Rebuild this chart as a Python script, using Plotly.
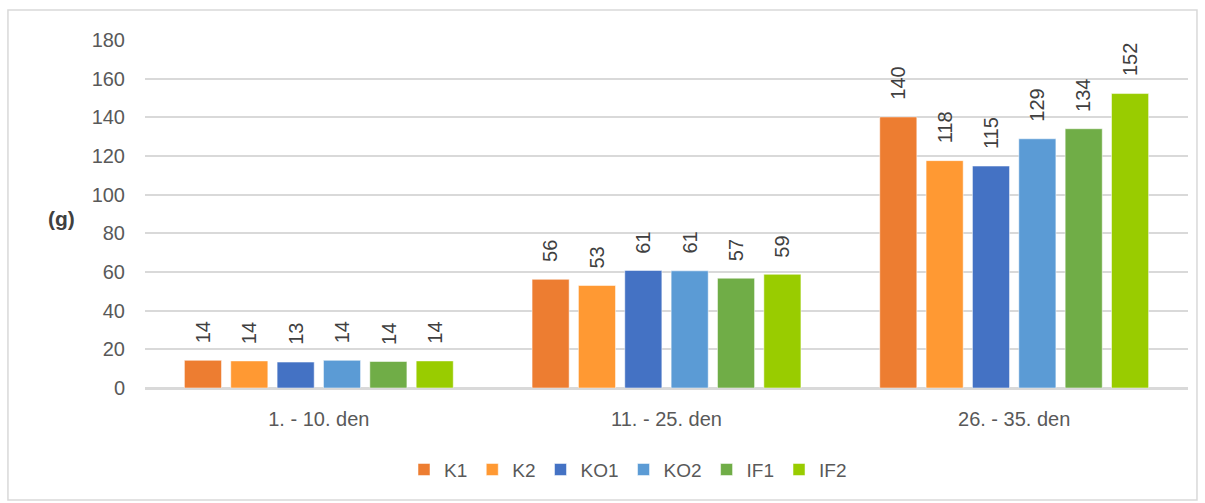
import plotly.graph_objects as go

categories = ["1. - 10. den", "11. - 25. den", "26. - 35. den"]
series_names = ["K1", "K2", "KO1", "KO2", "IF1", "IF2"]
K1 = [14.3, 56.2, 140.2]
K2 = [14.0, 53.0, 117.6]
KO1 = [13.4, 60.8, 114.8]
KO2 = [14.3, 60.6, 128.9]
IF1 = [13.7, 56.8, 134.1]
IF2 = [14.0, 58.8, 152.3]
colors = ["#ED7D31", "#FF9933", "#4472C4", "#5B9BD5", "#70AD47", "#99CC00"]

FONT = "Liberation Sans"
BARGAP = 0.2
all_series = [K1, K2, KO1, KO2, IF1, IF2]

fig = go.Figure()
for name, vals, col in zip(series_names, all_series, colors):
    fig.add_trace(go.Bar(
        x=categories, y=vals, name=name,
        marker=dict(color=col, line=dict(color="rgba(255,255,255,0.5)", width=1)),
    ))

# value labels (rotated), placed above each bar
n = len(all_series)
slot = (1 - BARGAP) / n
annotations = []
for j, vals in enumerate(all_series):
    for i, v in enumerate(vals):
        annotations.append(dict(
            x=i - (1 - BARGAP) / 2 + (j + 0.5) * slot, y=v, xref="x", yref="y",
            text=f"{v:.0f}", textangle=-90, showarrow=False,
            xanchor="center", yanchor="bottom", yshift=15,
            font=dict(size=20, color="#404040", family=FONT),
        ))
annotations.append(dict(text="<b>(g)</b>", x=(61 - 145) / 1043, y=(388 - 218) / 348,
                        xref="paper", yref="paper", xanchor="center", yanchor="middle",
                        showarrow=False, font=dict(size=21, color="#404040", family=FONT)))

fig.update_layout(
    width=1205, height=503,
    margin=dict(l=145, r=17, t=40, b=115),
    barmode="group", bargap=BARGAP, bargroupgap=0.2,
    plot_bgcolor="white", paper_bgcolor="white",
    font=dict(family=FONT, size=20, color="#595959"),
    yaxis=dict(range=[0, 180], dtick=20, showgrid=True, gridcolor="#D9D9D9", gridwidth=1.5,
               zeroline=True, zerolinecolor="#D9D9D9", zerolinewidth=1.5,
               tickfont=dict(size=20, color="#595959"), ticklabelstandoff=19, fixedrange=True),
    xaxis=dict(showline=True, linecolor="#D9D9D9", linewidth=1.5,
               tickfont=dict(size=20, color="#595959"), ticklabelstandoff=12),
    legend=dict(orientation="h", x=(628 - 145) / 1043, xanchor="center", y=-0.18, yanchor="top",
                font=dict(size=19, color="#595959"), itemwidth=30, traceorder="normal"),
    showlegend=True,
    annotations=annotations,
    shapes=[dict(type="rect", xref="paper", yref="paper", x0=-0.1314, x1=1.0086,
                 y0=-0.3218, y1=1.0862, line=dict(color="#D9D9D9", width=1.5))],
)

fig.write_html("out.html", config={"displayModeBar": False},
               post_script="document.body.style.margin='0';")
